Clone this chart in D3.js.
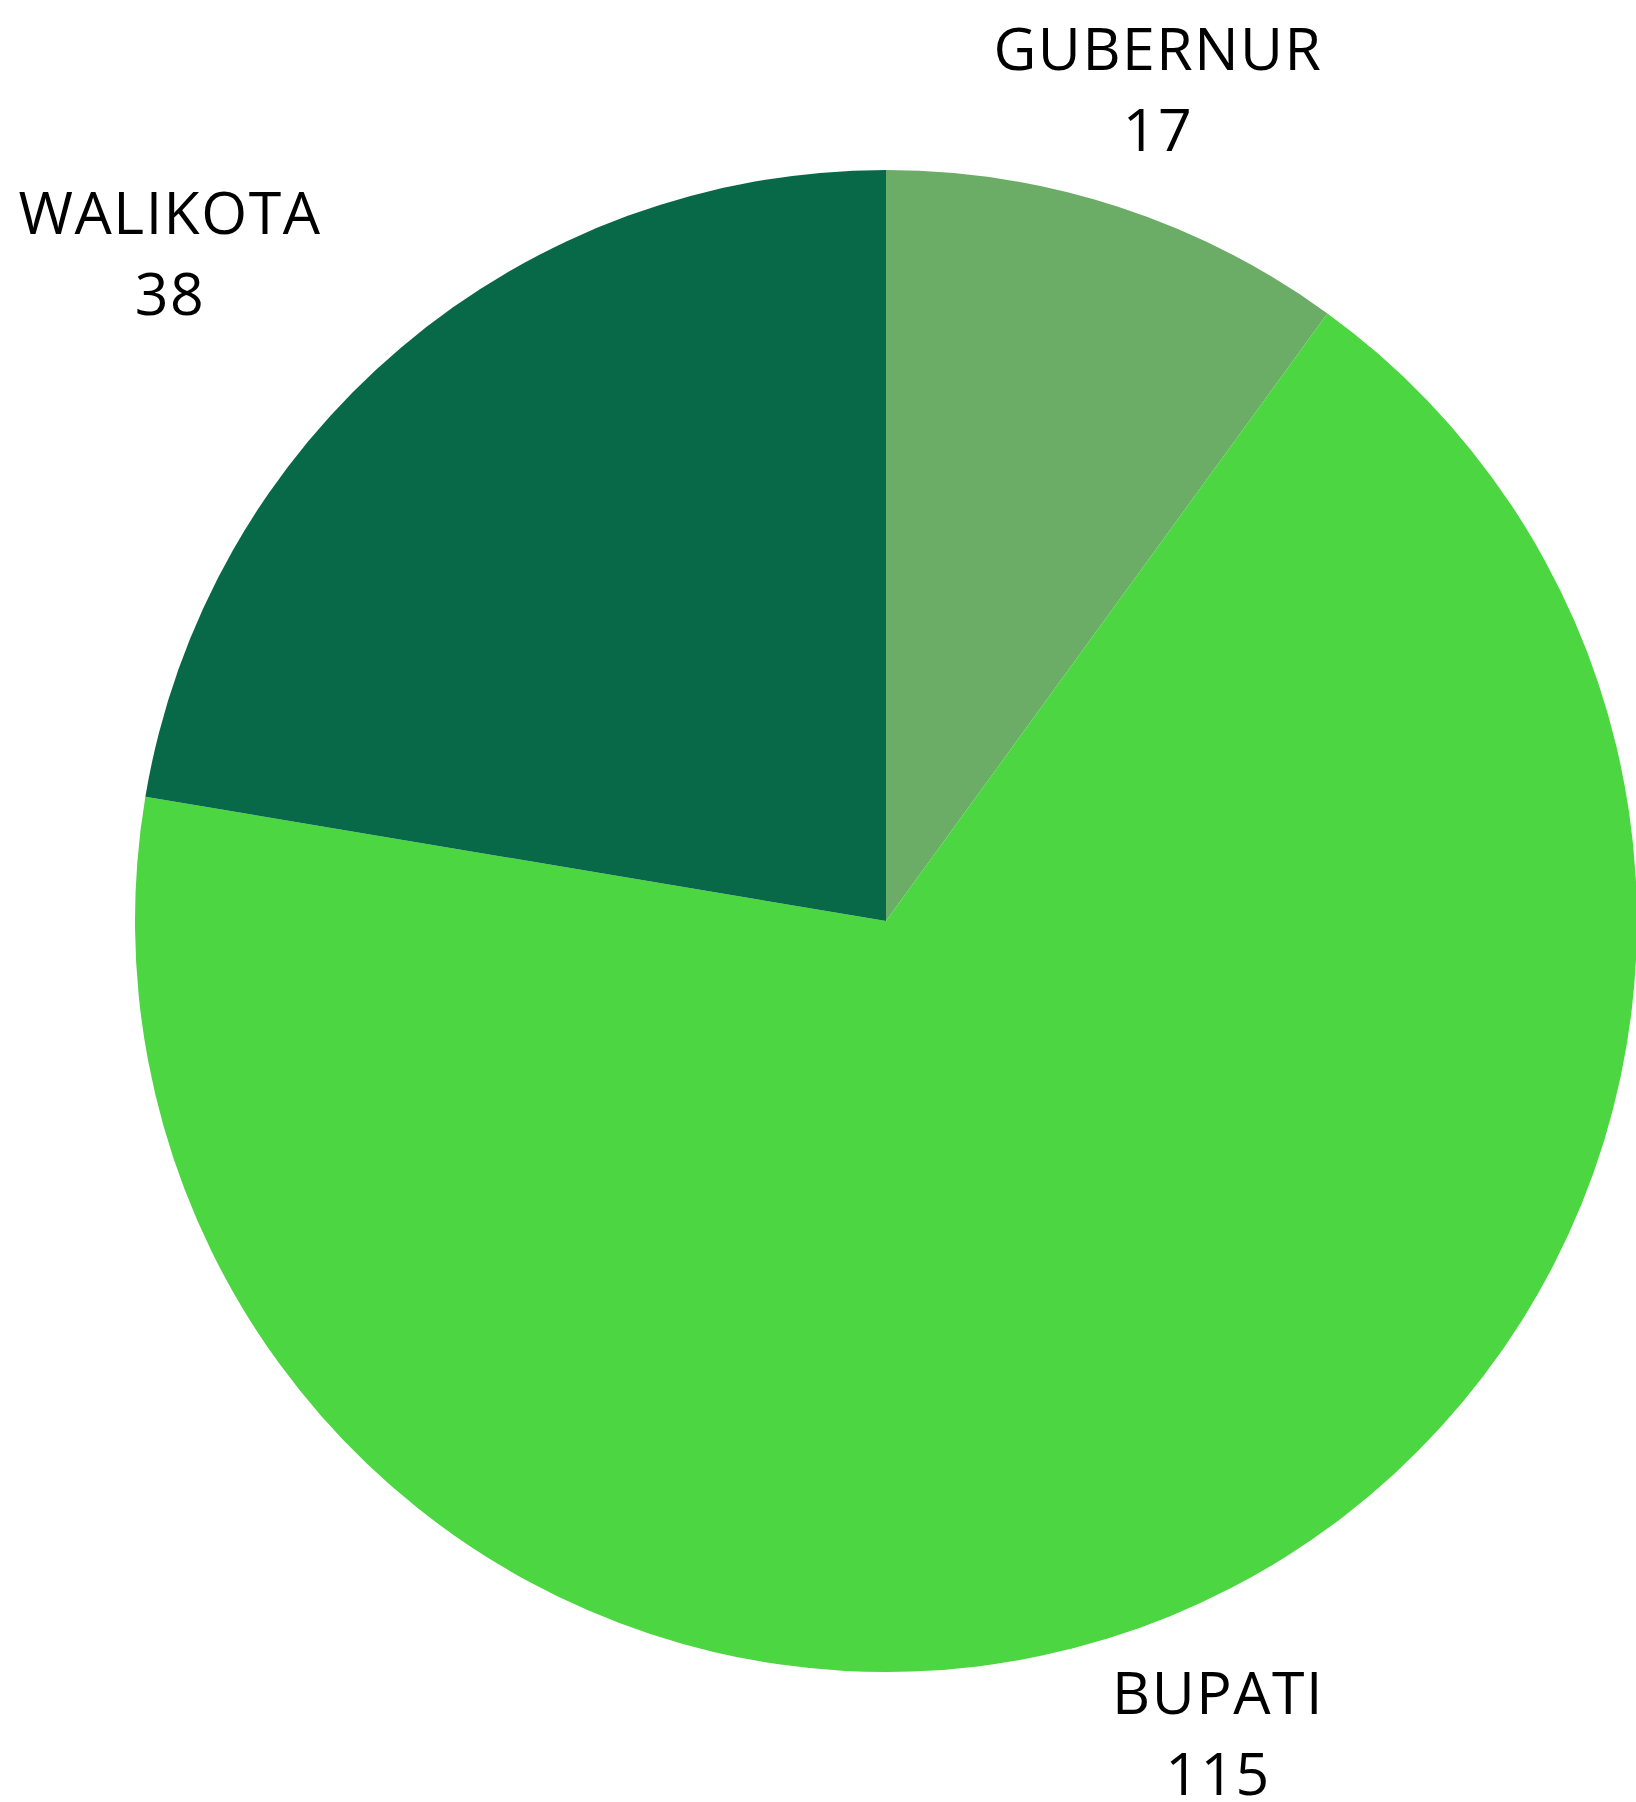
<!DOCTYPE html>
<html>
<head>
  <meta charset="utf-8">
  <script src="https://d3js.org/d3.v7.min.js"></script>
  <style>
    body { margin: 0; background: white; }
    text { font-family: 'Open Sans', sans-serif; font-size: 59px; letter-spacing: 1.5px; fill: #000; }
  </style>
</head>
<body>
  <svg id="chart"></svg>
  <script>
    var width = 1636;
    var height = 1802;

    // data
    var categories = ["GUBERNUR", "BUPATI", "WALIKOTA"];
    var values = [17, 115, 38];
    var colors = ["#6bad67", "#4cd641", "#076948"];

    // label anchor spots (centre of label block), per category
    var labelX = [1158, 1218, 170];
    var labelY = [70, 1714, 234];

    var cx = 886, cy = 921, radius = 751;

    var svg = d3.select("#chart").attr("width", width).attr("height", height);

    var data = categories.map((c, i) => ({ name: c, value: values[i], color: colors[i] }));

    var pie = d3.pie().sort(null).value(d => d.value);
    var arc = d3.arc().innerRadius(0).outerRadius(radius);

    var g = svg.append("g").attr("transform", `translate(${cx},${cy})`);

    g.selectAll("path")
      .data(pie(data))
      .enter().append("path")
      .attr("d", arc)
      .attr("fill", d => d.data.color);

    var labels = svg.append("g").selectAll("g")
      .data(data)
      .enter().append("g")
      .attr("transform", (d, i) => `translate(${labelX[i]},${labelY[i]})`);

    labels.append("text")
      .attr("text-anchor", "middle")
      .text(d => d.name);

    labels.append("text")
      .attr("text-anchor", "middle")
      .attr("y", 81)
      .text(d => d.value);
  </script>
</body>
</html>
